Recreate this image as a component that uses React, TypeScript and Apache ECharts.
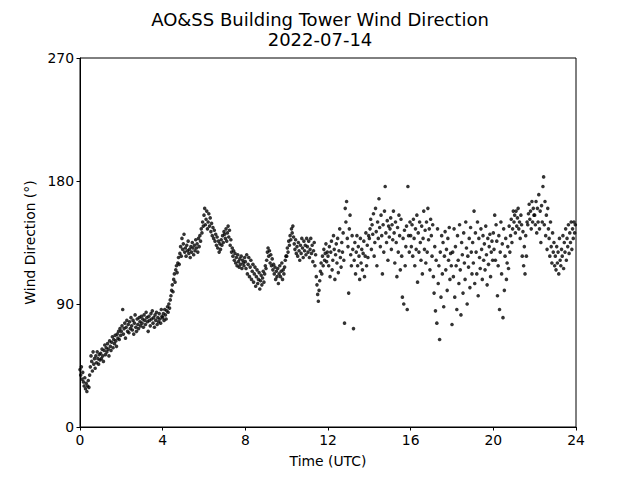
import React, { useEffect, useRef } from "react";
import * as echarts from "echarts";

// Wind direction (degrees), sampled every 2 minutes; one array per UTC hour
const hour00 = [42,38,44,35,40,33,30,36,28,32,26,30,34,29,38,44,52,48,41,55,46,50,43,52,47,55,50,46,53,49];
const hour01 = [54,50,57,52,48,56,60,53,58,55,61,57,52,63,59,56,62,66,58,64,61,67,63,59,68,65,70,64,72,67];
const hour02 = [70,74,86,68,72,76,65,73,78,70,75,69,77,72,80,74,71,78,68,76,82,73,70,79,75,72,80,77,74,81];
const hour03 = [76,79,73,82,78,75,84,80,77,70,81,78,74,83,79,85,76,80,73,82,78,84,75,80,77,83,79,76,86,81];
const hour04 = [80,83,78,86,82,79,85,88,84,90,87,93,96,100,104,99,108,112,106,115,118,113,120,124,119,127,132,125,138,130];
const hour05 = [134,141,128,131,125,133,129,136,127,130,124,132,128,135,131,126,133,129,137,131,134,128,138,132,140,136,145,142,150,147];
const hour06 = [155,160,148,152,158,145,150,156,147,153,143,149,140,146,138,144,136,141,133,139,131,136,128,134,130,137,133,140,135,143];
const hour07 = [141,138,145,136,142,147,139,144,133,137,128,131,125,129,122,127,120,124,118,126,121,117,123,119,125,116,122,120,118,124];
const hour08 = [121,116,126,112,119,124,110,117,122,108,114,119,106,112,117,103,110,115,105,108,113,101,107,111,104,109,114,106,112,118];
const hour09 = [116,122,128,131,125,129,120,126,118,123,115,119,112,117,108,114,110,116,105,112,118,110,114,120,108,115,112,117,122,125];
const hour10 = [125,131,128,136,133,140,137,145,142,147,139,134,130,137,127,132,125,135,129,122,133,127,138,131,124,136,129,133,126,138];
const hour11 = [132,128,136,124,130,138,127,133,121,129,135,118,126,110,104,97,92,100,107,114,120,112,125,118,130,122,127,134,121,128];
const hour12 = [125,118,132,110,128,136,115,122,140,130,108,126,134,120,138,113,129,145,124,117,135,128,142,122,76,160,150,165,138,132];
const hour13 = [98,145,155,126,118,140,130,72,122,135,112,128,140,118,132,125,108,138,120,130,115,127,136,110,125,142,118,133,124,140];
const hour14 = [138,145,152,130,148,141,156,125,135,160,143,118,150,138,167,146,132,155,140,112,148,128,158,176,142,135,151,122,147,139];
const hour15 = [145,153,130,148,137,158,142,120,150,135,110,146,128,155,140,115,152,125,95,138,90,144,118,132,147,86,176,140,128,150];
const hour16 = [140,132,148,125,152,138,118,145,130,155,106,142,128,150,135,122,147,112,138,158,130,144,120,150,128,160,137,145,115,152];
const hour17 = [140,125,148,110,98,132,85,122,76,145,105,118,64,128,95,140,112,135,88,125,143,115,130,100,138,122,146,108,127,118];
const hour18 = [75,128,110,145,95,132,118,86,140,122,105,148,115,82,135,126,98,142,120,108,150,131,90,125,117,138,102,146,128,112];
const hour19 = [135,120,158,105,142,128,112,150,96,138,124,116,145,130,108,140,122,134,115,147,126,104,138,119,132,141,110,128,136,122];
const hour20 = [142,130,155,122,148,136,96,118,140,86,128,150,112,134,80,145,100,125,138,108,120,132,116,147,128,140,152,135,145,158];
const hour21 = [150,155,142,158,147,153,160,145,150,138,155,148,125,143,118,132,112,140,125,150,148,156,163,152,158,145,165,150,160,155];
const hour22 = [155,148,165,142,160,150,170,145,158,135,162,150,176,183,148,165,140,155,130,160,145,138,125,150,132,120,142,128,135,118];
const hour23 = [125,115,132,120,128,112,138,122,118,130,125,140,116,135,128,145,122,138,132,148,127,142,135,150,130,145,138,150,142,148];

const hours = [hour00,hour01,hour02,hour03,hour04,hour05,hour06,hour07,hour08,hour09,hour10,hour11,
  hour12,hour13,hour14,hour15,hour16,hour17,hour18,hour19,hour20,hour21,hour22,hour23];

const xTicks = [0, 4, 8, 12, 16, 20, 24];
const yTicks = [0, 90, 180, 270];

const titleText = "AO&SS Building Tower Wind Direction";
const subtitleText = "2022-07-14";

export default function App() {
  const ref = useRef<HTMLDivElement>(null);
  useEffect(() => {
    if (!ref.current) return;
    const chart = echarts.init(ref.current, null, { renderer: "svg" });
    const data: number[][] = [];
    hours.forEach((arr, h) => {
      arr.forEach((v, i) => {
        data.push([h + (i * 2) / 60, v]);
      });
    });
    const font = "DejaVu Sans";
    chart.setOption({
      animation: false,
      backgroundColor: "#ffffff",
      title: [
        { text: titleText, left: "center", top: 5, textStyle: { fontFamily: font, fontSize: 18, fontWeight: "normal", color: "#000" } },
        { text: subtitleText, left: "center", top: 25, textStyle: { fontFamily: font, fontSize: 18, fontWeight: "normal", color: "#000" } },
      ],
      grid: { left: 80, right: 64, top: 58, bottom: 53, show: true, borderColor: "#000", borderWidth: 1, backgroundColor: "transparent" },
      xAxis: {
        type: "value",
        min: xTicks[0],
        max: xTicks[xTicks.length - 1],
        interval: 4,
        name: "Time (UTC)",
        nameLocation: "middle",
        nameGap: 27,
        nameTextStyle: { fontFamily: font, fontSize: 13.9, color: "#000" },
        axisLine: { show: true, onZero: false, lineStyle: { color: "#000", width: 1 } },
        axisTick: { show: true, length: 3.5, lineStyle: { color: "#000" } },
        axisLabel: { fontFamily: font, fontSize: 13.9, color: "#000", margin: 6 },
        splitLine: { show: false },
      },
      yAxis: {
        type: "value",
        min: yTicks[0],
        max: yTicks[yTicks.length - 1],
        interval: 90,
        name: "Wind Direction (°)",
        nameLocation: "middle",
        nameGap: 42,
        nameTextStyle: { fontFamily: font, fontSize: 13.9, color: "#000" },
        axisLine: { show: true, onZero: false, lineStyle: { color: "#000", width: 1 } },
        axisTick: { show: true, length: 3.5, lineStyle: { color: "#000" } },
        axisLabel: { fontFamily: font, fontSize: 13.9, color: "#000", margin: 6 },
        splitLine: { show: false },
      },
      series: [
        {
          type: "scatter",
          data,
          symbol: "circle",
          symbolSize: 3.6,
          itemStyle: { color: "#000" },
        },
      ],
    });
    return () => chart.dispose();
  }, []);
  return <div ref={ref} style={{ width: 640, height: 480, position: "absolute", left: 0, top: 0 }} />;
}
